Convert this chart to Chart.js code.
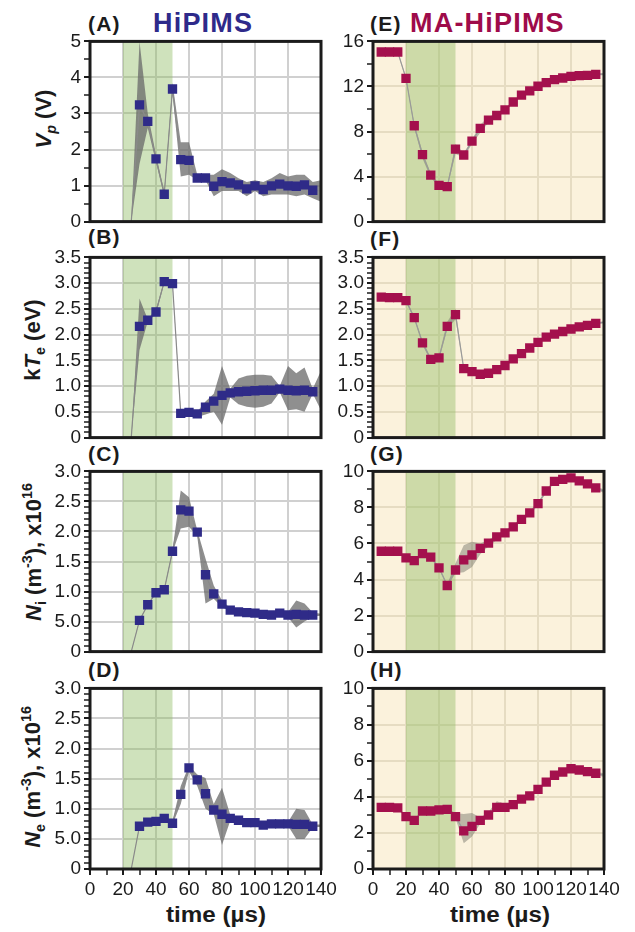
<!DOCTYPE html>
<html>
<head>
<meta charset="utf-8">
<script src="https://cdn.jsdelivr.net/npm/chart.js@4/dist/chart.umd.min.js"></script>
<style>
  body { margin: 0; background: #fff; font-family: "Liberation Sans", Arial, sans-serif; }
  #page { position: relative; width: 635px; height: 932px; overflow: hidden; }
  #page canvas { position: absolute; }
  .lab { position: absolute; font-weight: bold; font-size: 21px; line-height: 21px; letter-spacing: 1.2px; color: #1b1b1b; white-space: nowrap; }
  .head { position: absolute; top: 10px; font-weight: bold; font-size: 27px; line-height: 27px; letter-spacing: 1.2px; white-space: nowrap; }
  .ytitle { position: absolute; font-weight: bold; font-size: 22px; line-height: 22px; color: #1b1b1b; white-space: nowrap;
            transform: translate(-50%, -50%) rotate(-90deg); }
  .xtitle { position: absolute; top: 904px; font-weight: bold; font-size: 22px; line-height: 22px; color: #1b1b1b; white-space: nowrap;
            transform: translateX(-50%) scaleX(1.1); }
  .sb { font-size: 0.65em; position: relative; top: 0.35em; }
  .sp { font-size: 0.65em; position: relative; top: -0.6em; }
</style>
</head>
<body>
<div id="page">
  <div class="lab" style="left:88px;top:13px">(A)</div>
  <div class="lab" style="left:88px;top:226px">(B)</div>
  <div class="lab" style="left:88px;top:443px">(C)</div>
  <div class="lab" style="left:88px;top:659px">(D)</div>
  <div class="lab" style="left:370px;top:13px">(E)</div>
  <div class="lab" style="left:370px;top:228px">(F)</div>
  <div class="lab" style="left:370px;top:443px">(G)</div>
  <div class="lab" style="left:370px;top:659px">(H)</div>
  <div class="head" style="left:153px;color:#2e2a8a">HiPIMS</div>
  <div class="head" style="left:410px;color:#9e0b4a">MA-HiPIMS</div>
  <div class="ytitle" style="left:45px;top:119px"><i>V</i><span class="sb"><i>p</i></span> (V)</div>
  <div class="ytitle" style="left:34px;top:340px">k<i>T</i><span class="sb">e</span> (eV)</div>
  <div class="ytitle" style="left:35px;top:552px"><i>N</i><span class="sb">i</span> (m<span class="sp">-3</span>), x10<span class="sp">16</span></div>
  <div class="ytitle" style="left:34px;top:777px"><i>N</i><span class="sb">e</span> (m<span class="sp">-3</span>), x10<span class="sp">16</span></div>
  <div class="xtitle" style="left:216px">time (µs)</div>
  <div class="xtitle" style="left:500px">time (µs)</div>
</div>
<script>
// time axes (µs)
const tLeft = [25, 30, 35, 40, 45, 50, 55, 60, 65, 70, 75, 80, 85, 90, 95, 100, 105, 110, 115, 120, 125, 130, 135, 140];
const tRight = [5, 10, 15, 20, 25, 30, 35, 40, 45, 50, 55, 60, 65, 70, 75, 80, 85, 90, 95, 100, 105, 110, 115, 120, 125, 130, 135, 140];

// HiPIMS (left column)
const vpHip     = [0, 3.24, 2.78, 1.74, 0.76, 3.68, 1.72, 1.70, 1.21, 1.21, 0.98, 1.11, 1.07, 1.02, 0.91, 0.99, 0.89, 0.99, 1.04, 0.99, 0.98, 1.02, 0.87, 0.85];
const vpHipLow  = [0, 1.60, 2.60, 1.65, 0.70, 3.55, 1.25, 1.30, 1.15, 1.15, 0.70, 0.85, 0.85, 0.85, 0.70, 0.85, 0.70, 0.75, 0.75, 0.75, 0.70, 0.75, 0.65, 0.55];
const vpHipHigh = [0, 5.00, 3.00, 1.85, 0.85, 3.85, 2.20, 2.20, 1.30, 1.30, 1.30, 1.45, 1.35, 1.20, 1.10, 1.15, 1.10, 1.20, 1.35, 1.25, 1.30, 1.30, 1.10, 1.15];

const kteHip     = [0, 2.16, 2.28, 2.44, 3.03, 2.99, 0.47, 0.49, 0.46, 0.59, 0.71, 0.82, 0.87, 0.89, 0.90, 0.91, 0.92, 0.92, 0.94, 0.92, 0.91, 0.92, 0.89, 0.88];
const kteHipLow  = [0, 1.70, 2.25, 2.40, 3.00, 2.97, 0.44, 0.45, 0.40, 0.45, 0.50, 0.25, 0.78, 0.65, 0.60, 0.58, 0.60, 0.66, 0.88, 0.53, 0.55, 0.50, 0.85, 0.53];
const kteHipHigh = [0, 2.70, 2.30, 2.50, 3.05, 3.01, 0.50, 0.52, 0.50, 0.70, 0.85, 1.39, 0.95, 1.15, 1.20, 1.22, 1.22, 1.20, 1.00, 1.39, 1.25, 1.36, 0.95, 1.30];

const niHip     = [0, 0.52, 0.78, 0.98, 1.03, 1.67, 2.36, 2.34, 1.99, 1.28, 0.96, 0.79, 0.69, 0.66, 0.65, 0.64, 0.62, 0.61, 0.64, 0.61, 0.62, 0.61, 0.61, 0.61];
const niHipLow  = [0, 0.51, 0.77, 0.97, 1.02, 1.65, 2.05, 2.08, 1.92, 0.80, 0.88, 0.74, 0.67, 0.65, 0.64, 0.63, 0.61, 0.60, 0.63, 0.57, 0.40, 0.50, 0.58, 0.60];
const niHipHigh = [0, 0.53, 0.79, 0.99, 1.04, 1.70, 2.68, 2.57, 2.02, 1.55, 1.10, 0.85, 0.72, 0.67, 0.66, 0.65, 0.63, 0.62, 0.65, 0.66, 0.85, 0.80, 0.65, 0.63];

const neHip     = [0, 0.71, 0.78, 0.79, 0.84, 0.76, 1.24, 1.68, 1.48, 1.25, 0.98, 0.91, 0.84, 0.81, 0.77, 0.77, 0.73, 0.75, 0.75, 0.75, 0.74, 0.74, 0.71, 0.72];
const neHipLow  = [0, 0.70, 0.77, 0.78, 0.83, 0.74, 1.08, 1.62, 1.38, 1.00, 0.91, 0.40, 0.80, 0.79, 0.76, 0.76, 0.72, 0.74, 0.74, 0.72, 0.50, 0.50, 0.69, 0.70];
const neHipHigh = [0, 0.72, 0.79, 0.80, 0.85, 0.80, 1.38, 1.72, 1.57, 1.51, 1.08, 1.35, 0.90, 0.83, 0.78, 0.78, 0.74, 0.76, 0.76, 0.78, 1.00, 0.98, 0.74, 0.74];

// MA-HiPIMS (right column)
const vpMa     = [15.06, 15.06, 15.06, 12.72, 8.51, 5.94, 4.12, 3.22, 3.10, 6.43, 5.91, 7.14, 8.28, 9.01, 9.42, 9.92, 10.62, 11.23, 11.61, 12.02, 12.34, 12.61, 12.75, 12.90, 12.96, 12.99, 13.07, 13.10];
const vpMaLow  = [14.95, 14.95, 14.95, 12.60, 8.30, 5.60, 3.90, 3.10, 3.00, 6.00, 5.70, 6.90, 7.90, 8.80, 9.20, 9.80, 10.50, 11.10, 11.50, 11.90, 12.25, 12.50, 12.65, 12.80, 12.88, 12.92, 13.00, 13.00];
const vpMaHigh = [15.15, 15.15, 15.15, 12.85, 8.70, 6.20, 4.30, 3.35, 3.25, 6.90, 6.10, 7.30, 8.60, 9.30, 9.60, 10.05, 10.75, 11.35, 11.70, 12.12, 12.43, 12.70, 12.85, 12.98, 13.04, 13.06, 13.14, 13.20];

const kteMa     = [2.73, 2.72, 2.72, 2.66, 2.33, 1.84, 1.52, 1.55, 2.16, 2.39, 1.34, 1.28, 1.23, 1.25, 1.32, 1.40, 1.53, 1.63, 1.74, 1.85, 1.95, 2.01, 2.06, 2.11, 2.15, 2.18, 2.22, 2.24];
const kteMaLow  = [2.71, 2.70, 2.70, 2.64, 2.30, 1.80, 1.49, 1.52, 2.10, 2.30, 1.32, 1.26, 1.21, 1.23, 1.30, 1.38, 1.51, 1.61, 1.72, 1.83, 1.93, 1.99, 2.04, 2.09, 2.13, 2.16, 2.20, 2.22];
const kteMaHigh = [2.75, 2.74, 2.74, 2.68, 2.36, 1.88, 1.55, 1.60, 2.25, 2.50, 1.36, 1.30, 1.25, 1.27, 1.34, 1.42, 1.55, 1.65, 1.76, 1.87, 1.97, 2.03, 2.08, 2.13, 2.17, 2.20, 2.24, 2.26];

const niMa     = [5.57, 5.57, 5.57, 5.20, 5.05, 5.44, 5.24, 4.65, 3.67, 4.53, 5.09, 5.36, 5.73, 6.02, 6.37, 6.59, 6.92, 7.34, 7.70, 8.21, 8.91, 9.45, 9.56, 9.64, 9.47, 9.31, 9.09, 8.90];
const niMaLow  = [5.50, 5.50, 5.50, 5.13, 4.98, 5.37, 5.17, 4.58, 3.60, 4.35, 4.40, 4.70, 5.40, 5.85, 6.20, 6.50, 6.82, 7.25, 7.60, 8.12, 8.82, 9.37, 9.48, 9.56, 9.39, 9.23, 9.00, 8.80];
const niMaHigh = [5.64, 5.64, 5.64, 5.27, 5.12, 5.51, 5.31, 4.72, 3.74, 4.90, 5.90, 6.10, 6.00, 6.20, 6.50, 6.70, 7.02, 7.44, 7.80, 8.30, 9.00, 9.53, 9.64, 9.72, 9.55, 9.39, 9.18, 9.00];

const neMa     = [3.41, 3.41, 3.38, 2.90, 2.69, 3.21, 3.21, 3.27, 3.30, 2.90, 2.11, 2.36, 2.69, 2.99, 3.41, 3.41, 3.56, 3.87, 4.05, 4.41, 4.81, 5.19, 5.37, 5.55, 5.48, 5.39, 5.30, 5.20];
const neMaLow  = [3.35, 3.35, 3.32, 2.84, 2.63, 3.15, 3.15, 3.21, 3.24, 2.80, 1.42, 1.80, 2.50, 2.90, 3.30, 3.35, 3.50, 3.80, 3.98, 4.34, 4.74, 5.12, 5.30, 5.48, 5.41, 5.32, 5.22, 5.10];
const neMaHigh = [3.47, 3.47, 3.44, 2.96, 2.75, 3.27, 3.27, 3.33, 3.36, 3.10, 3.05, 3.10, 2.85, 3.15, 3.75, 3.60, 3.65, 3.95, 4.12, 4.48, 4.88, 5.26, 5.44, 5.62, 5.55, 5.46, 5.38, 5.30];

// tick labels
const timeTicks = ['0', '20', '40', '60', '80', '100', '120', '140'];
const vpHipTicks = ['0', '1', '2', '3', '4', '5'];
const kteTicks = ['0', '0.5', '1.0', '1.5', '2.0', '2.5', '3.0', '3.5'];
const nHipTicks = ['0', '5.0', '1.0', '1.5', '2.0', '2.5', '3.0'];
const vpMaTicks = ['0', '4', '8', '12', '16'];
const nMaTicks = ['0', '2', '4', '6', '8', '10'];

// pulse window shading (µs)
const shadeFrom = 20, shadeTo = 50;

Chart.defaults.font.family = '"Liberation Sans", Arial, sans-serif';

const rowTop = [39, 255, 469, 686];
const page = document.getElementById('page');

const panels = [
  { col: 0, row: 0, t: tLeft, v: vpHip, lo: vpHipLow, hi: vpHipHigh, yMax: 5, major: 1, minor: 0.5, labels: vpHipTicks, m0: 1, m1: -1 },
  { col: 0, row: 1, t: tLeft, v: kteHip, lo: kteHipLow, hi: kteHipHigh, yMax: 3.5, major: 0.5, minor: 0.1, labels: kteTicks, m0: 1, m1: -1 },
  { col: 0, row: 2, t: tLeft, v: niHip, lo: niHipLow, hi: niHipHigh, yMax: 3, major: 0.5, minor: 0.1, labels: nHipTicks, m0: 1, m1: -1 },
  { col: 0, row: 3, t: tLeft, v: neHip, lo: neHipLow, hi: neHipHigh, yMax: 3, major: 0.5, minor: 0.1, labels: nHipTicks, m0: 1, m1: -1 },
  { col: 1, row: 0, t: tRight, v: vpMa, lo: vpMaLow, hi: vpMaHigh, yMax: 16, major: 4, minor: 2, labels: vpMaTicks, m0: 0, m1: -1 },
  { col: 1, row: 1, t: tRight, v: kteMa, lo: kteMaLow, hi: kteMaHigh, yMax: 3.5, major: 0.5, minor: 0.1, labels: kteTicks, m0: 0, m1: -1 },
  { col: 1, row: 2, t: tRight, v: niMa, lo: niMaLow, hi: niMaHigh, yMax: 10, major: 2, minor: 1, labels: nMaTicks, m0: 0, m1: -1 },
  { col: 1, row: 3, t: tRight, v: neMa, lo: neMaLow, hi: neMaHigh, yMax: 10, major: 2, minor: 1, labels: nMaTicks, m0: 0, m1: -1 }
];

function pts(t, v) {
  return t.map(function(x, i) { return { x: x, y: v[i] }; });
}

function tickList(max, step) {
  const out = [];
  const n = Math.round(max / step);
  for (let i = 0; i <= n; i++) out.push({ value: +(i * step).toFixed(4) });
  return out;
}

function isMajor(v, major) {
  const k = v / major;
  return Math.abs(k - Math.round(k)) < 1e-6;
}

// background, pulse shading and the closed frame
const decor = {
  id: 'decor',
  beforeDraw(chart, args, o) {
    if (!o.bg) return;
    const a = chart.chartArea, c = chart.ctx;
    c.save();
    c.fillStyle = o.bg;
    c.fillRect(a.left, a.top, a.right - a.left, a.bottom - a.top);
    c.restore();
  },
  beforeDatasetsDraw(chart, args, o) {
    const a = chart.chartArea, c = chart.ctx, x = chart.scales.x;
    const x0 = x.getPixelForValue(shadeFrom), x1 = x.getPixelForValue(shadeTo);
    c.save();
    c.fillStyle = o.shade;
    c.fillRect(x0, a.top, x1 - x0, a.bottom - a.top);
    c.restore();
  },
  afterDraw(chart) {
    const a = chart.chartArea, c = chart.ctx;
    c.save();
    c.strokeStyle = '#1b1b1b';
    c.lineWidth = 3;
    c.strokeRect(a.left, a.top, a.right - a.left, a.bottom - a.top);
    c.restore();
  }
};

panels.forEach(function(p) {
  const right = p.col === 1;
  const bottom = p.row === 3;
  const L = right ? 373 : 90;
  const T = rowTop[p.row];
  const xh = bottom ? 36 : 14;
  const gridColor = right ? '#e6dcc2' : '#d0d0d0';
  const markColor = right ? '#a4104d' : '#2f2b88';

  const cv = document.createElement('canvas');
  cv.width = 50 + 231 + 22;
  cv.height = 12 + 183 + xh;
  cv.style.left = (L - 50) + 'px';
  cv.style.top = (T - 12) + 'px';
  page.appendChild(cv);

  new Chart(cv, {
    type: 'line',
    data: {
      datasets: [
        { data: pts(p.t.slice(p.m0, p.m1), p.v.slice(p.m0, p.m1)), showLine: false, pointStyle: 'rect', pointRadius: 6.6,
          pointBackgroundColor: markColor, pointBorderColor: markColor, pointBorderWidth: 0, order: 1 },
        { data: pts(p.t, p.v), borderColor: right ? '#9a9a9a' : '#8a8a8a', borderWidth: 1.2, pointRadius: 0, fill: false, order: 2 },
        { data: pts(p.t, p.hi), borderWidth: 0, pointRadius: 0, fill: '+1',
          backgroundColor: right ? 'rgba(110,110,100,0.45)' : 'rgba(105,105,105,0.75)', order: 3 },
        { data: pts(p.t, p.lo), borderWidth: 0, pointRadius: 0, fill: false, order: 4 }
      ]
    },
    options: {
      responsive: false,
      animation: false,
      events: [],
      layout: { padding: { top: 12, right: 22, bottom: 0, left: 0 } },
      plugins: {
        legend: { display: false },
        tooltip: { enabled: false },
        decor: { bg: right ? '#fbf2dc' : null, shade: 'rgba(140,185,95,0.42)' }
      },
      scales: {
        x: {
          type: 'linear', min: 0, max: 140,
          afterBuildTicks: function(s) { s.ticks = tickList(140, 10); },
          afterFit: function(s) { s.height = xh; },
          border: { display: false },
          grid: {
            color: function(c) { return c.tick && !isMajor(c.tick.value, 20) ? 'rgba(0,0,0,0)' : gridColor; },
            lineWidth: 2, drawTicks: bottom, tickLength: 6, tickColor: '#1b1b1b',
            tickWidth: function(c) { return c.tick && isMajor(c.tick.value, 20) ? 2 : 1.5; }
          },
          ticks: {
            display: bottom, autoSkip: false, maxRotation: 0, padding: 3, color: '#1b1b1b', font: { size: 19 },
            callback: function(v) { return isMajor(v, 20) ? timeTicks[Math.round(v / 20)] : ''; }
          }
        },
        y: {
          min: 0, max: p.yMax,
          afterBuildTicks: function(s) { s.ticks = tickList(p.yMax, p.minor); },
          afterFit: function(s) { s.width = 50; },
          border: { display: false },
          grid: {
            color: function(c) { return c.tick && !isMajor(c.tick.value, p.major) ? 'rgba(0,0,0,0)' : gridColor; },
            lineWidth: 2, tickLength: 6, tickColor: '#1b1b1b',
            tickWidth: function(c) { return c.tick && isMajor(c.tick.value, p.major) ? 2 : 1.5; }
          },
          ticks: {
            autoSkip: false, padding: 3, color: '#1b1b1b', font: { size: 19 },
            callback: function(v) { return isMajor(v, p.major) ? p.labels[Math.round(v / p.major)] : ''; }
          }
        }
      }
    },
    plugins: [decor]
  });
});
</script>
</body>
</html>
